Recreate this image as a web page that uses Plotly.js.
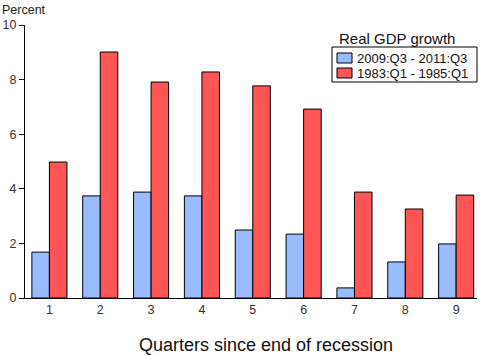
<!DOCTYPE html>
<html><head><meta charset="utf-8">
<script src="https://cdn.plot.ly/plotly-3.0.1.min.js"></script>
<style>body{margin:0;padding:0;background:#fff}#c{width:484px;height:356px}</style>
</head><body><div id="c"></div>
<script>
const quarters = [1,2,3,4,5,6,7,8,9];
const seriesNames = ['2009:Q3 - 2011:Q3', '1983:Q1 - 1985:Q1'];
const seriesColors = ['#99bbff', '#ff5555'];
const recent = [1.68, 3.74, 3.88, 3.74, 2.49, 2.34, 0.37, 1.32, 1.98];
const early = [4.98, 9.01, 7.91, 8.28, 7.77, 6.92, 3.88, 3.26, 3.77];
const yTicks = [0,2,4,6,8,10];
const xTitle = 'Quarters since end of recession';

const font = 'Liberation Sans, Arial, sans-serif';
const M = {l:25, r:7, t:25, b:58};
const W = 484, H = 356;
const pw = W - M.l - M.r, ph = H - M.t - M.b;
const px = v => (v - M.l) / pw;
const py = v => (H - M.b - v) / ph;

const traces = [
  {type:'bar', x:quarters, y:recent, name:seriesNames[0], showlegend:false,
   marker:{color:seriesColors[0], line:{color:'#000', width:1}}},
  {type:'bar', x:quarters, y:early, name:seriesNames[1], showlegend:false,
   marker:{color:seriesColors[1], line:{color:'#000', width:1}}}
];

// custom legend (box, swatches, labels)
const shapes = [
  {type:'rect', xref:'paper', yref:'paper', x0:px(332), x1:px(477), y0:py(47), y1:py(82),
   line:{color:'#000', width:1}, fillcolor:'#fff'}
];
const annotations = [
  {text:'Percent', x:0, y:1, xref:'paper', yref:'paper', xanchor:'left', yanchor:'bottom',
   xshift:-25, yshift:6, showarrow:false, font:{family:font, size:12.5, color:'#222'}},
  {text:'Real GDP growth', x:px(337), y:py(38), xref:'paper', yref:'paper', xanchor:'left', yanchor:'middle',
   showarrow:false, font:{family:font, size:15, color:'#111'}},
  {text:xTitle, x:px(266), y:py(345), xref:'paper', yref:'paper', xanchor:'center', yanchor:'middle',
   showarrow:false, font:{family:font, size:18, color:'#111'}}
];
seriesNames.forEach((n, i) => {
  const top = 53 + i*15;
  shapes.push({type:'rect', xref:'paper', yref:'paper', x0:px(337), x1:px(352), y0:py(top), y1:py(top+10),
    line:{color:'#000', width:1}, fillcolor:seriesColors[i]});
  annotations.push({text:n, x:px(355), y:py(top+5), xref:'paper', yref:'paper', xanchor:'left', yanchor:'middle',
    showarrow:false, font:{family:font, size:13, color:'#111'}});
});

const layout = {
  width:W, height:H, margin:M,
  paper_bgcolor:'#fff', plot_bgcolor:'#fff',
  font:{family:font, size:12, color:'#333'},
  barmode:'group', bargap:0.31, bargroupgap:0,
  showlegend:false,
  xaxis:{range:[0.52, 9.41], tickvals:quarters, ticktext:quarters.map(String),
    showline:true, linecolor:'#000', linewidth:1, ticks:'', showgrid:false, zeroline:false,
    fixedrange:true, tickfont:{size:12.5}},
  yaxis:{range:[0,10], tickvals:yTicks, showline:true, linecolor:'#000', linewidth:1,
    ticks:'outside', ticklen:5, tickcolor:'#000', showgrid:false, zeroline:false, fixedrange:true,
    tickfont:{size:12.5}},
  shapes, annotations
};
Plotly.newPlot('c', traces, layout, {displayModeBar:false, staticPlot:true});
</script></body></html>
